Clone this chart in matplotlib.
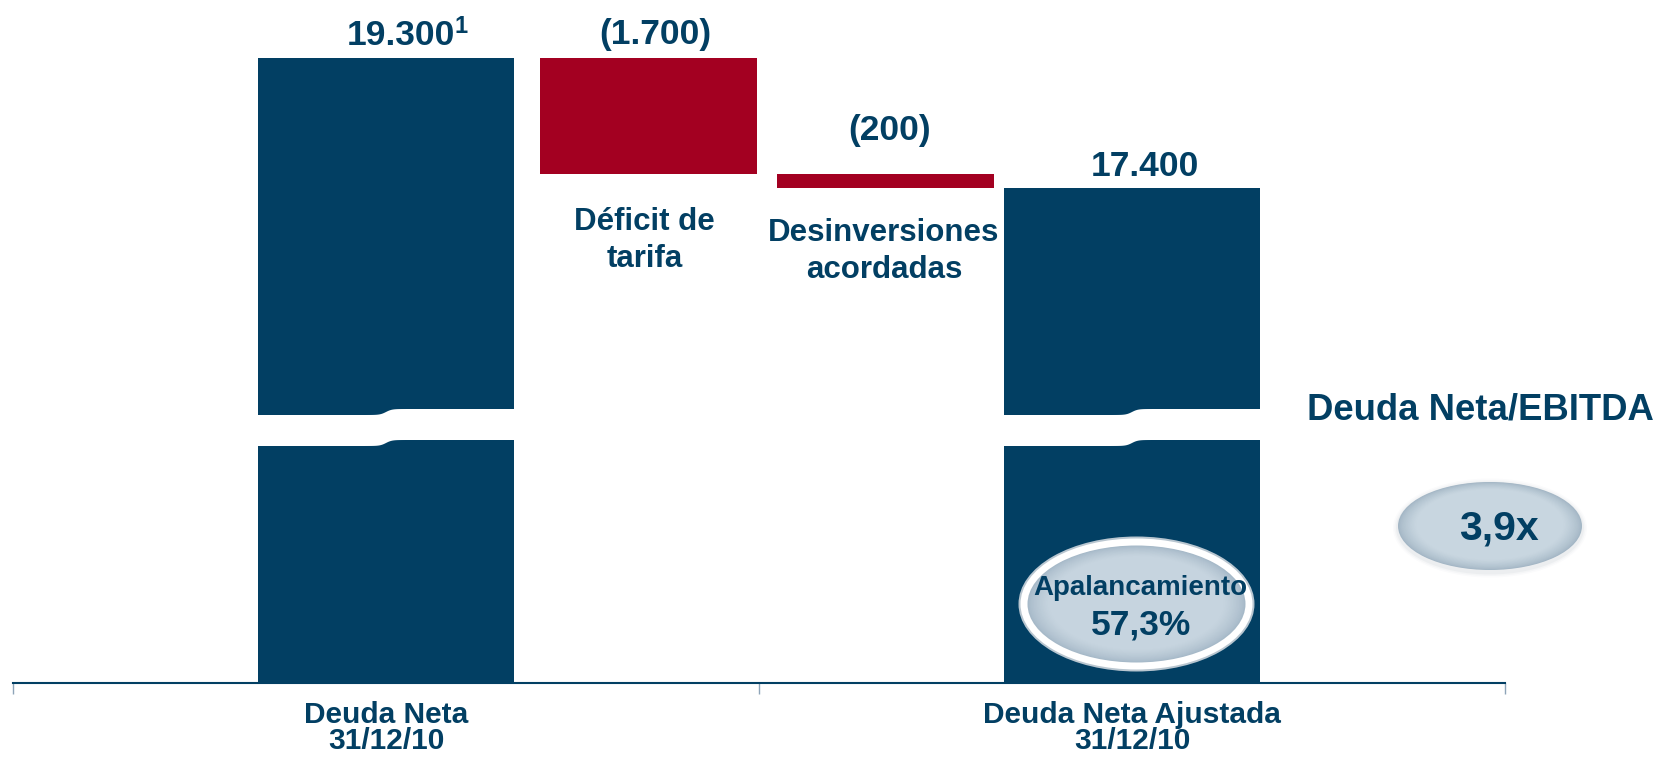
import numpy as np
import matplotlib
matplotlib.use("Agg")
import matplotlib.pyplot as plt
import matplotlib.transforms as mtransforms
from matplotlib.patches import Ellipse, Polygon
from matplotlib.colors import to_rgb

# ---------------- data ----------------
categories = ["Deuda Neta\n31/12/10", "Deuda Neta Ajustada\n31/12/10"]
step_labels = ["Déficit de\ntarifa", "Desinversiones\nacordadas"]
deuda_neta = 19300
ajustes = [-1700, -200]
deuda_ajustada = 17400
value_labels = ["19.300", "(1.700)", "(200)", "17.400"]
footnote_mark = "1"
ratio_title = "Deuda Neta/EBITDA"
ratio_value = "3,9x"
apal_label = "Apalancamiento"
apal_value = "57,3%"

# ---------------- style ----------------
NAVY = "#023F63"
RED = "#A30021"
plt.rcParams["font.family"] = ["Liberation Sans", "DejaVu Sans"]
plt.rcParams["font.weight"] = "bold"

W, H = 1662, 757
fig = plt.figure(figsize=(W / 100, H / 100), dpi=100)
AX_L, AX_R, AX_B, AX_T = 13, 1505, 683, 20
H_AX = AX_B - AX_T
ax = fig.add_axes([AX_L / W, 1 - AX_B / H, (AX_R - AX_L) / W, H_AX / H])

# broken value scale (piecewise linear)
k = 0.068
V = [-1000, 0, 3500, 14100, 30000]
P = [-1000 * k, 0, 240, 271, 271 + (30000 - 14100) * k]
fwd = lambda v: np.interp(v, V, P)
inv = lambda p: np.interp(p, P, V)
ax.set_yscale("function", functions=(fwd, inv))

# ---------------- bars ----------------
x_pos = [1.0, 1.704, 2.339, 3.0]
w_tot, w_step = 0.686, 0.582
levels = deuda_neta + np.cumsum(ajustes)
ax.bar(x_pos[0], deuda_neta, width=w_tot, color=NAVY, zorder=2)
ax.bar(x_pos[1:3], -np.array(ajustes), bottom=levels, width=w_step, color=RED, zorder=2)
ax.bar(x_pos[3], deuda_ajustada, width=w_tot, color=NAVY, zorder=2)

ax.set_xlim(0, 4)
ax.set_ylim(0, float(inv(H_AX)))

trans = mtransforms.blended_transform_factory(ax.transData, ax.transAxes)


def yfrac(px):
    return (AX_B - px) / H_AX


# break bands on the total bars
def band(xc, w):
    xs = np.linspace(xc - w / 2 - 0.01, xc + w / 2 + 0.01, 300)
    s = 1 / (1 + np.exp(-(xs - xc) / 0.008))
    lo = (P[2] - 3 + 6 * s) / H_AX
    hi = (P[3] - 3 + 6 * s) / H_AX
    verts = np.concatenate([np.column_stack([xs, lo]),
                            np.column_stack([xs[::-1], hi[::-1]])])
    ax.add_patch(Polygon(verts, closed=True, transform=trans,
                         facecolor="white", edgecolor="none", zorder=5))


band(x_pos[0], w_tot)
band(x_pos[3], w_tot)

# ---------------- axes ----------------
for s in ["left", "right", "top"]:
    ax.spines[s].set_visible(False)
ax.spines["bottom"].set_color(NAVY)
ax.spines["bottom"].set_linewidth(1.5)
ax.tick_params(axis="y", which="both", left=False, labelleft=False)
ax.set_xticks([0, 2, 4])
ax.set_xticklabels([])
ax.tick_params(axis="x", which="major", length=8, width=1, color="#8EA4B8", direction="out")
ax.set_xticks([1, 3], categories, minor=True)
ax.tick_params(axis="x", which="minor", length=0, pad=13, labelsize=21.5, labelcolor=NAVY)
for lbl in ax.get_xticklabels(minor=True):
    lbl.set_fontweight("bold")
    lbl.set_linespacing(0.9)

# ---------------- value labels ----------------
val_dx = [0.040, 0.019, 0.011, 0.035]
val_base = [45, 44, 140, 176]
val_texts = []
for i, txt in enumerate(value_labels):
    t = ax.text(x_pos[i] + val_dx[i], yfrac(val_base[i]), txt, transform=trans,
                ha="center", va="baseline", fontsize=25.5, color=NAVY, fontweight="bold")
    val_texts.append(t)

# footnote mark after the first value, top aligned with the digits
fig.canvas.draw()
bb = val_texts[0].get_window_extent(renderer=fig.canvas.get_renderer())
x_sup = (bb.x1 - 1) / W
y_sup = 1 - (45 - 12) / H
fig.text(x_sup, y_sup, footnote_mark, ha="left", va="baseline",
         fontsize=17, color=NAVY, fontweight="bold", zorder=5)

step_dx = [-0.011, -0.004]
step_base = [230, 241]
for i, txt in enumerate(step_labels):
    for j, line in enumerate(txt.split("\n")):
        ax.text(x_pos[i + 1] + step_dx[i], yfrac(step_base[i] + 37 * j), line,
                transform=trans, ha="center", va="baseline", fontsize=22.5,
                color=NAVY, fontweight="bold")

# ---------------- ellipses ----------------
def grad_ellipse(cx, cy, w, h, c_edge, c_center, n=40, shrink=0.55, shift=0.0, z=3):
    ce = np.array(to_rgb(c_edge))
    cc = np.array(to_rgb(c_center))
    for i in range(n):
        t = i / (n - 1)
        f = 1 - shrink * t
        col = ce + (cc - ce) * min(1, (t / 0.35) ** 0.7)
        fig.add_artist(Ellipse((cx / W, 1 - (cy - shift * t) / H), w * f / W, h * f / H,
                               transform=fig.transFigure, facecolor=col,
                               edgecolor="none", zorder=z))


# Apalancamiento (white ring)
fig.add_artist(Ellipse((1136.5 / W, 1 - 604 / H), 236 / W, 135 / H, transform=fig.transFigure,
                       facecolor="#B9C6D0", edgecolor="none", zorder=3))
fig.add_artist(Ellipse((1136.5 / W, 1 - 604 / H), 232 / W, 131 / H, transform=fig.transFigure,
                       facecolor="white", edgecolor="none", zorder=3))
grad_ellipse(1136.5, 604, 218, 117, "#A6B9C8", "#C6D4DF", shift=3, z=3)
fig.text(1140 / W, 1 - 595 / H, apal_label, ha="center", va="baseline",
         fontsize=20, color=NAVY, fontweight="bold", zorder=5)
fig.text(1141 / W, 1 - 635 / H, apal_value, ha="center", va="baseline",
         fontsize=25.5, color=NAVY, fontweight="bold", zorder=5)

# 3,9x with soft shadow
for i, a in enumerate([0.04, 0.06, 0.09]):
    g = 10 - 3 * i
    fig.add_artist(Ellipse((1490 / W, 1 - 528 / H), (184 + g) / W, (89 + g) / H,
                           transform=fig.transFigure, facecolor=(0.6, 0.65, 0.7, a),
                           edgecolor="none", zorder=3))
grad_ellipse(1490, 526, 184, 88, "#A3B6C5", "#C8D6E0", shift=4, z=3)
fig.text(1499 / W, 1 - 540 / H, ratio_value, ha="center", va="baseline",
         fontsize=29.5, color=NAVY, fontweight="bold", zorder=5)

fig.text(1480 / W, 1 - 419 / H, ratio_title, ha="center", va="baseline",
         fontsize=26.3, color=NAVY, fontweight="bold", zorder=5)

fig.savefig("out.png", dpi=100)
